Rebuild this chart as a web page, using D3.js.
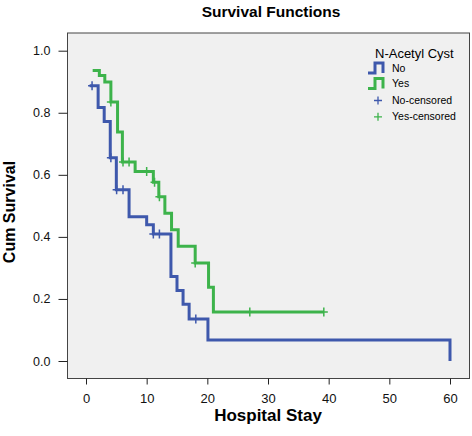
<!DOCTYPE html>
<html><head><meta charset="utf-8">
<script src="https://cdn.jsdelivr.net/npm/d3@7"></script>
<style>body{margin:0;background:#fff}svg{display:block}text{font-family:"Liberation Sans",Arial,sans-serif}</style>
</head><body>
<script>
// ---- data ----
const noTimes  = [0.6, 2, 3, 4, 5, 7.1, 10, 11.1, 14, 15, 16, 17, 20.1, 60];
const noSurv   = [0.887, 0.817, 0.772, 0.655, 0.552, 0.465, 0.439, 0.409, 0.272, 0.227, 0.183, 0.135, 0.068, 0];
const noCensT  = [1, 4.1, 5.05, 6.1, 11.1, 12.1, 18.1];
const yesTimes = [1.1, 2.2, 3.1, 4.1, 5.2, 6.0, 8.1, 11.1, 12.0, 13.0, 14.1, 15.2, 18.0, 20.2, 21.0, 39.2];
const yesSurv  = [0.936, 0.920, 0.899, 0.835, 0.738, 0.641, 0.611, 0.576, 0.529, 0.476, 0.423, 0.370, 0.316, 0.238, 0.158, 0.158];
const yesCensT = [4.1, 6.1, 7.1, 10.0, 11.3, 12.1, 18.0, 27.0, 39.2];
const xTicks = [0, 10, 20, 30, 40, 50, 60];
const yTicks = [0, 0.2, 0.4, 0.6, 0.8, 1.0];
const legendTitle = "N-Acetyl Cyst";
const legendLabels = ["No", "Yes", "No-censored", "Yes-censored"];

const W = 472, H = 436;
const blue = "#3e58ac", green = "#3db34b";
const svg = d3.select("body").append("svg").attr("width", W).attr("height", H);

const frame = {l: 67.5, t: 33, r: 469.5, b: 378.5};
const x = d3.scaleLinear().domain([0, 60]).range([86, 450]);
const y = d3.scaleLinear().domain([0, 1]).range([361, 50.7]);

svg.append("rect").attr("x", frame.l).attr("y", frame.t)
  .attr("width", frame.r - frame.l).attr("height", frame.b - frame.t)
  .attr("fill", "#f0f0f0").attr("stroke", "#444").attr("stroke-width", 1);

// axes
const xAxis = d3.axisBottom(x).tickValues(xTicks).tickSize(6).tickPadding(9).tickFormat(d3.format("d"));
const gx = svg.append("g").attr("transform", `translate(0,${frame.b})`).call(xAxis);
gx.select(".domain").remove();
gx.selectAll("text").attr("font-size", 13).attr("fill", "#111").attr("font-family", "Liberation Sans, Arial, sans-serif");
gx.selectAll("line").attr("stroke", "#222");

const yAxis = d3.axisLeft(y).tickValues(yTicks).tickSize(9).tickPadding(8).tickFormat(d3.format(".1f"));
const gy = svg.append("g").attr("transform", `translate(${frame.l},0)`).call(yAxis);
gy.select(".domain").remove();
gy.selectAll("text").attr("font-size", 12.5).attr("fill", "#111").attr("font-family", "Liberation Sans, Arial, sans-serif");
gy.selectAll("line").attr("stroke", "#222");

// curves
const line = d3.line().x(d => x(d[0])).y(d => y(d[1])).curve(d3.curveStepAfter);
function survAt(times, surv, t) {
  let s = surv[0];
  for (let i = 0; i < times.length; i++) if (times[i] <= t + 1e-9) s = surv[i];
  return s;
}
function drawSeries(times, surv, censT, color) {
  svg.append("path").datum(times.map((t, i) => [t, surv[i]]))
    .attr("d", line).attr("fill", "none").attr("stroke", color).attr("stroke-width", 3)
    .attr("stroke-linejoin", "miter");
  svg.append("g").selectAll("path").data(censT).join("path")
    .attr("d", t => { const cx = x(t), cy = y(survAt(times, surv, t));
      return `M${cx - 4},${cy}H${cx + 4}M${cx},${cy - 4.5}V${cy + 4.5}`; })
    .attr("stroke", color).attr("stroke-width", 1.5).attr("fill", "none");
}
drawSeries(noTimes, noSurv, noCensT, blue);
drawSeries(yesTimes, yesSurv, yesCensT, green);

// title and axis labels
svg.append("text").attr("x", 271).attr("y", 16.5).attr("text-anchor", "middle")
  .attr("font-size", 15.5).attr("font-weight", "bold").text("Survival Functions");
svg.append("text").attr("x", 268).attr("y", 421).attr("text-anchor", "middle")
  .attr("font-size", 17).attr("font-weight", "bold").text("Hospital Stay");
svg.append("text").attr("transform", "translate(14.5,212) rotate(-90)").attr("text-anchor", "middle")
  .attr("font-size", 16).attr("font-weight", "bold").text("Cum Survival");

// legend
const lg = svg.append("g");
lg.append("text").attr("x", 375).attr("y", 58).attr("font-size", 13).text(legendTitle);
const colors = [blue, green];
[0, 1].forEach(i => {
  const cy = 68 + i * 15.5;
  lg.append("path").attr("d", `M368,${cy + 5}H375V${cy - 5}H383V${cy + 5}`)
    .attr("fill", "none").attr("stroke", colors[i]).attr("stroke-width", 3);
  lg.append("text").attr("x", 392).attr("y", cy + 3.5).attr("font-size", 10.5).text(legendLabels[i]);
});
[0, 1].forEach(i => {
  const cy = 100.5 + i * 16.3;
  lg.append("path").attr("d", `M374,${cy}H382M378,${cy - 4}V${cy + 4}`)
    .attr("stroke", colors[i]).attr("stroke-width", 1.3);
  lg.append("text").attr("x", 392).attr("y", cy + 3.5).attr("font-size", 10.5).text(legendLabels[i + 2]);
});
</script>
</body></html>
